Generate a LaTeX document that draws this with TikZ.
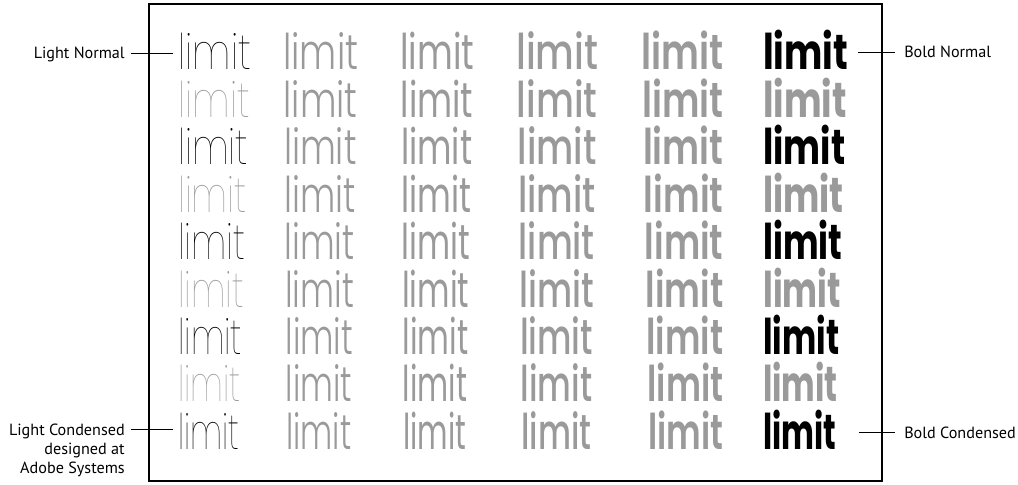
\documentclass[tikz,border=0pt]{standalone}
\usepackage{fontspec}
\usepackage{graphicx}
\setmainfont{PT Sans}
\newfontfamily\wthin{Poppins Thin}
\newfontfamily\wlight{Poppins Light}
\newfontfamily\wreg{Poppins}
\newfontfamily\wmed{Poppins Medium}
\newfontfamily\wsemi{Poppins SemiBold}
\newfontfamily\wbold{Poppins Bold}
\definecolor{limgray}{HTML}{9A9A9A}

\begin{document}
\begin{tikzpicture}[x=0.025cm, y=-0.025cm,
    lbl/.style={inner sep=0, text depth=0pt, font=\fontsize{11.5}{13.5}\selectfont},
    word/.style={anchor=base west, inner sep=0}]
    \useasboundingbox (0,0) rectangle (1018,485);
    \draw[line width=1pt] (149,4) rectangle (882,481);
    \foreach \rw/\ec in {1/black,2/limgray,3/black,4/limgray,5/black,6/limgray,7/black,8/limgray,9/black} {
        \foreach \cl/\fn/\tc/\xa/\xb/\wa/\wb in {1/\wthin/\ec/178/178/73/61, 2/\wlight/limgray/283/286/75/65, 3/\wreg/limgray/400/403/74/63, 4/\wmed/limgray/516/521/82/70, 5/\wsemi/limgray/641/648/82/75, 6/\wbold/\ec/763/763/85/73} {
            \pgfmathsetmacro\fr{(\rw-1)/8}
            \pgfmathsetmacro\xx{\xa+(\xb-\xa)*\fr}
            \pgfmathsetmacro\yy{70+47.4*(\rw-1)}
            \pgfmathsetmacro\ww{(\wa+(\wb-\wa)*\fr)*0.025}
            \node[word, text=\tc] (w\cl\rw) at (\xx,\yy) {\resizebox{\ww cm}{\height}{\fontsize{35}{35}\fn limit}};
        }
    }
    \node[lbl, anchor=base east] (ln) at (125,59) {Light Normal};
    \node[lbl, anchor=base east] (lc) at (125,435) {Light Condensed};
    \node[lbl, anchor=north east, align=right] (lcnote) at (125,443) {designed at\\Adobe Systems};
    \node[lbl, anchor=base west] (bn) at (904,58) {Bold Normal};
    \node[lbl, anchor=base west] (bc) at (904,438) {Bold Condensed};
    \draw[shorten <=4.2pt, shorten >=3.5pt] (ln.east) -- (ln.east -| w11.west);
    \draw[shorten <=4.2pt, shorten >=3.5pt] (lc.east) -- (lc.east -| w19.west);
    \draw[shorten <=7pt, shorten >=6.4pt] (w61.east |- bn.west) -- (bn.west);
    \draw[shorten <=15.6pt, shorten >=6.4pt] (w69.east |- bc.west) -- (bc.west);
\end{tikzpicture}
\end{document}
